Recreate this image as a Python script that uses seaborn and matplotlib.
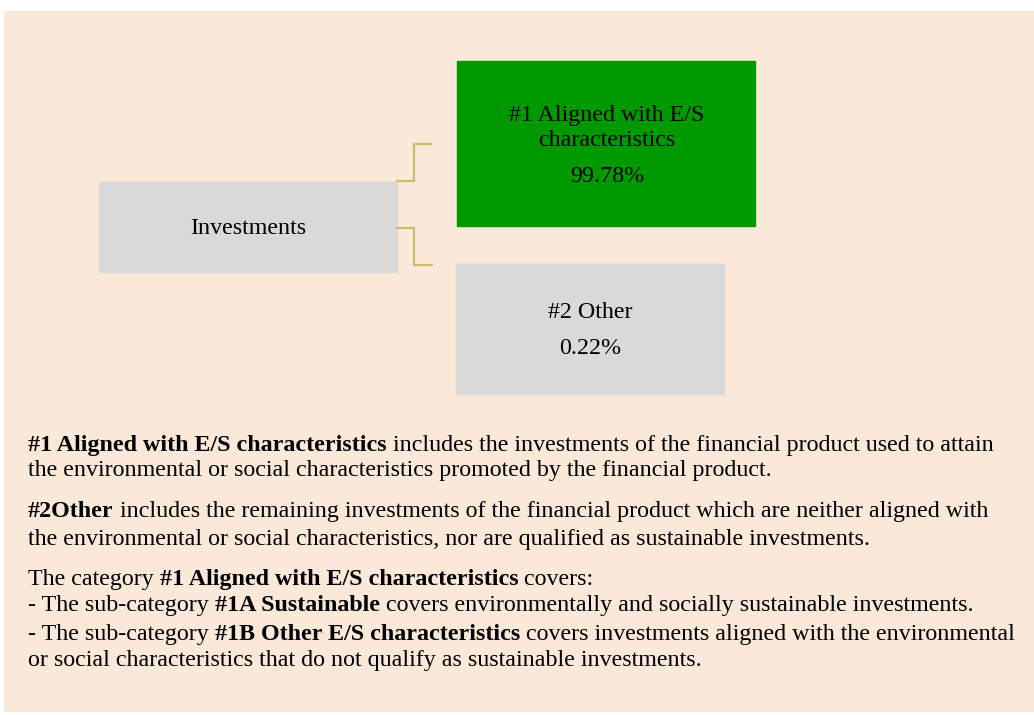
import matplotlib
matplotlib.use("Agg")
import matplotlib.pyplot as plt
import seaborn as sns
from matplotlib.patches import Rectangle

# data
categories = ["#1 Aligned with E/S\ncharacteristics", "#2 Other"]
shares = [99.78, 0.22]
root_label = "Investments"

# explanatory notes: list of lines, each line a list of (text, bold)
notes = [
    [("#1 Aligned with E/S characteristics", True),
     (" includes the investments of the financial product used to attain", False)],
    [("the environmental or social characteristics promoted by the financial product.", False)],
    None,
    [("#2Other", True),
     (" includes the remaining investments of the financial product which are neither aligned with", False)],
    [("the environmental or social characteristics, nor are qualified as sustainable investments.", False)],
    None,
    [("The category ", False), ("#1 Aligned with E/S characteristics", True), (" covers:", False)],
    [("- The sub-category ", False), ("#1A Sustainable", True),
     (" covers environmentally and socially sustainable investments.", False)],
    [("- The sub-category ", False), ("#1B Other E/S characteristics", True),
     (" covers investments aligned with the environmental", False)],
    [("or social characteristics that do not qualify as sustainable investments.", False)],
]

sns.set_theme(style="white")
plt.rcParams['font.family'] = ['Liberation Serif', 'DejaVu Serif']

bg = "#fae8d9"
green = "#009900"
grey = "#d9d9d9"
line_col = "#cbbb6e"
fs = 17.3

fig = plt.figure(figsize=(10.34, 7.15), dpi=100)
fig.patch.set_facecolor("white")
ax = fig.add_axes([0, 0, 1, 1])
ax.set_xlim(0, 1034)
ax.set_ylim(715, 0)
ax.axis("off")

ax.add_patch(Rectangle((4, 11), 1030, 700, color=bg, zorder=0))

# boxes
ax.add_patch(Rectangle((99, 182), 298, 90, color=grey, zorder=1))
ax.text(248, 229, root_label, ha="center", va="center", fontsize=fs, color="black")

box_specs = [((457, 61), 298, 165, green), ((456, 264), 268, 130, grey)]
label_pos = [(607, 128, 176), (590, 313, 349)]
for cat, val, (xy, w, h, c), (cx, ly, vy) in zip(categories, shares, box_specs, label_pos):
    ax.add_patch(Rectangle(xy, w, h, color=c, zorder=1))
    ax.text(cx, ly, cat, ha="center", va="center", fontsize=fs, color="black",
            linespacing=1.3)
    ax.text(cx, vy, f"{val:.2f}%", ha="center", va="center", fontsize=fs, color="black")

# connectors
ax.plot([397, 414, 414, 432], [181, 181, 144, 144], color=line_col, lw=1.6, zorder=2)
ax.plot([397, 414, 414, 432], [228, 228, 265, 265], color=line_col, lw=1.6, zorder=2)

# notes
renderer = fig.canvas.get_renderer()


def seg_width(s, bold):
    w = "bold" if bold else "normal"
    t1 = ax.text(0, 0, "x" + s + "x", fontsize=fs, fontweight=w)
    t2 = ax.text(0, 0, "xx", fontsize=fs, fontweight=w)
    width = t1.get_window_extent(renderer).width - t2.get_window_extent(renderer).width
    t1.remove()
    t2.remove()
    return width


baselines = [451, 476, None, 517, 545, None, 585, 611, 640, 666]
for parts, yb in zip(notes, baselines):
    if parts is None:
        continue
    x = 28
    for s, bold in parts:
        ax.text(x, yb, s, fontsize=fs, fontweight="bold" if bold else "normal",
                va="baseline", ha="left", color="black")
        x += seg_width(s, bold)

fig.savefig("out.png", dpi=100, facecolor="white")
